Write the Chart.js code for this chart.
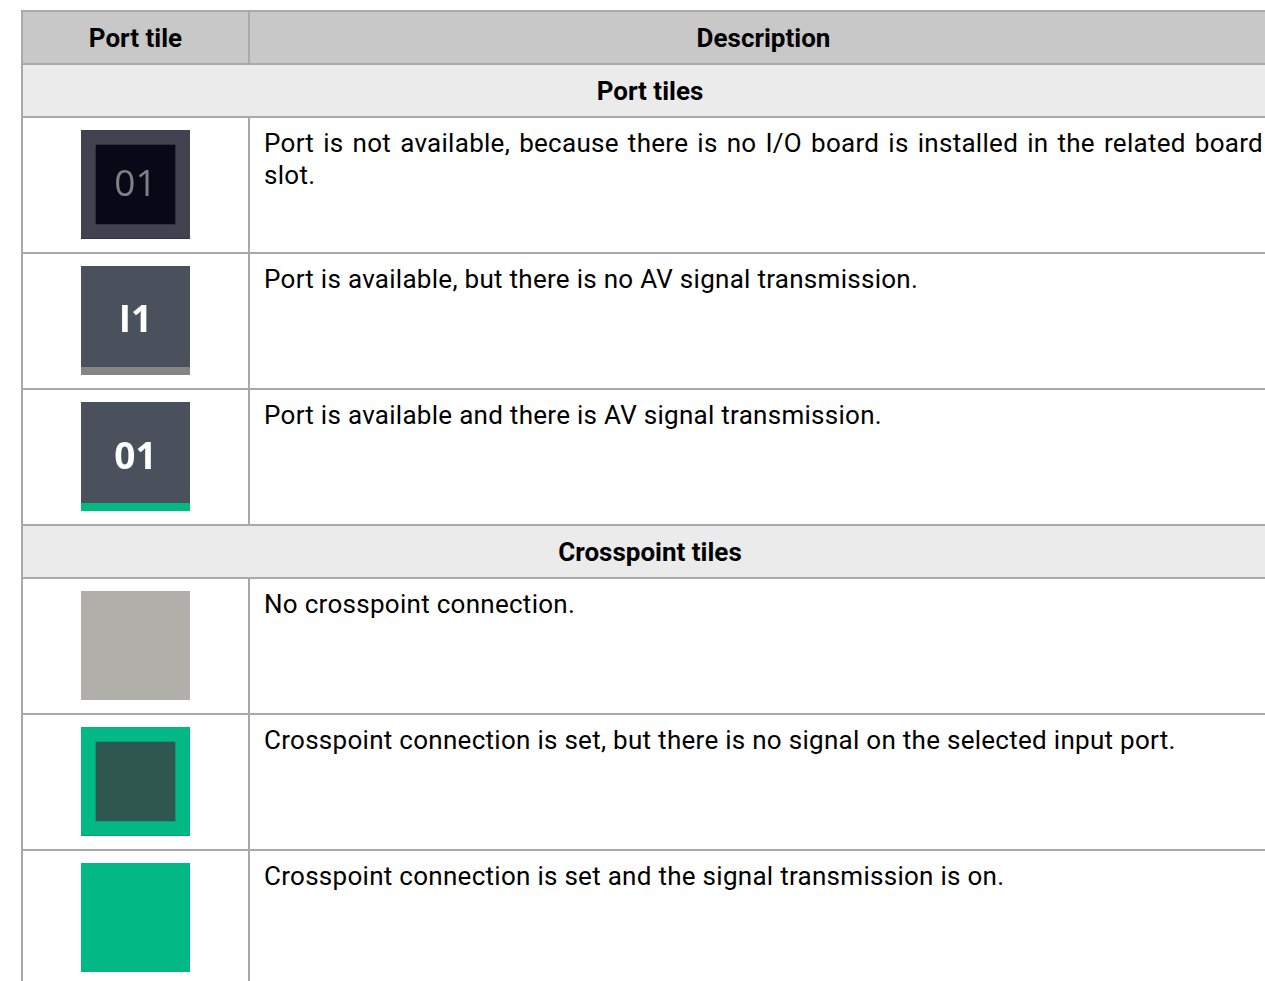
<!DOCTYPE html>
<html>
<head>
<meta charset="utf-8">
<script src="https://cdn.jsdelivr.net/npm/chart.js@4.4.1/dist/chart.umd.min.js"></script>
<style>
  body { margin: 0; background: #fff; overflow: hidden; width: 1265px; height: 981px; }
  #tbl {
    position: absolute; left: 21px; top: 10px;
    border-collapse: collapse; table-layout: fixed; width: 1256px;
    font-family: Roboto, sans-serif; color: #000;
  }
  #tbl td, #tbl th { border: 2px solid #a9a9a9; padding: 0; }
  #tbl th { background: #c8c8c8; font-weight: bold; font-size: 26px; height: 51px; }
  #tbl td.section { background: #ebebeb; font-weight: bold; font-size: 26px; text-align: center; height: 51px; }
  #tbl td.tile { text-align: center; vertical-align: top; height: 122px; padding-top: 12px; }
  #tbl td.desc { vertical-align: top; font-size: 26px; letter-spacing: 0.28px; line-height: 32px; text-align: justify; padding: 9px 14px 0 14px; }
  .tileBox { width: 109px; height: 109px; margin: 0 auto; position: relative; }
</style>
</head>
<body>
<table id="tbl">
  <colgroup><col style="width:227px"><col style="width:1029px"></colgroup>
  <thead><tr id="headRow"></tr></thead>
  <tbody id="bodyRows"></tbody>
</table>
<script>
// --- data ---
const columnTitles = ['Port tile', 'Description'];
const sections = ['Port tiles', 'Crosspoint tiles'];
const rowSection = [0, 0, 0, 1, 1, 1];
const tileLabels = ['01', 'I1', '01', '', '', ''];
const tileStates = ['unavailable', 'noSignal', 'signal', 'none', 'setNoSignal', 'setSignal'];
// body and status-strip shares of each tile (percent of tile height)
const bodyShare = [100, 93, 93, 100, 100, 100];
const stripShare = [0, 7, 7, 0, 0, 0];
const descriptions = [
  'Port is not available, because there is no I/O board is installed in the related board slot.',
  'Port is available, but there is no AV signal transmission.',
  'Port is available and there is AV signal transmission.',
  'No crosspoint connection.',
  'Crosspoint connection is set, but there is no signal on the selected input port.',
  'Crosspoint connection is set and the signal transmission is on.'
];

// --- styles per tile state ---
const stateStyle = {
  unavailable: { fill: '#070a16', strip: '#070a16', border: '#42414f', borderWidth: 15, text: '#808086', weight: '400', dy: 1 },
  noSignal:    { fill: '#4a515c', strip: '#858585', border: null, borderWidth: 0, text: '#ffffff', weight: 'bold', dy: 5 },
  signal:      { fill: '#4a515c', strip: '#02b884', border: null, borderWidth: 0, text: '#ffffff', weight: 'bold', dy: 6 },
  none:        { fill: '#b0afaa', strip: '#b0afaa', border: null, borderWidth: 0, text: '#ffffff', weight: '400', dy: 0 },
  setNoSignal: { fill: '#2e5750', strip: '#2e5750', border: '#02b884', borderWidth: 15, text: '#ffffff', weight: '400', dy: 0 },
  setSignal:   { fill: '#02b884', strip: '#02b884', border: null, borderWidth: 0, text: '#ffffff', weight: '400', dy: 0 }
};

// tile label drawn on the body bar
const tileLabelPlugin = {
  id: 'tileLabel',
  afterDatasetsDraw(chart, args, opts) {
    if (!opts.text) return;
    const bar = chart.getDatasetMeta(1).data[0];
    const ctx = chart.ctx;
    ctx.save();
    ctx.fillStyle = opts.color;
    ctx.font = opts.weight + ' 37px "Open Sans"';
    ctx.textAlign = 'center';
    ctx.textBaseline = 'middle';
    ctx.fillText(opts.text, bar.x, (bar.y + bar.base) / 2 + opts.dy);
    ctx.restore();
  }
};

const headRow = document.getElementById('headRow');
columnTitles.forEach(t => {
  const th = document.createElement('th');
  th.textContent = t;
  headRow.appendChild(th);
});

const tbody = document.getElementById('bodyRows');
let lastSection = -1;
descriptions.forEach((d, i) => {
  if (rowSection[i] !== lastSection) {
    lastSection = rowSection[i];
    const sr = document.createElement('tr');
    const sc = document.createElement('td');
    sc.colSpan = 2;
    sc.className = 'section';
    sc.textContent = sections[lastSection];
    sr.appendChild(sc);
    tbody.appendChild(sr);
  }
  const tr = document.createElement('tr');
  const tc = document.createElement('td');
  tc.className = 'tile';
  const box = document.createElement('div');
  box.className = 'tileBox';
  const cv = document.createElement('canvas');
  cv.id = 'tile' + i;
  box.appendChild(cv);
  tc.appendChild(box);
  const dc = document.createElement('td');
  dc.className = 'desc';
  dc.textContent = d;
  tr.appendChild(tc);
  tr.appendChild(dc);
  tbody.appendChild(tr);
});

tileStates.forEach((state, i) => {
  const st = stateStyle[state];
  new Chart(document.getElementById('tile' + i), {
    type: 'bar',
    data: {
      labels: [tileLabels[i] || 'tile'],
      datasets: [
        { label: 'strip', data: [stripShare[i]], backgroundColor: st.strip, borderWidth: 0 },
        {
          label: 'body', data: [bodyShare[i]], backgroundColor: st.fill,
          borderColor: st.border || st.fill, borderWidth: st.borderWidth, borderSkipped: false
        }
      ]
    },
    options: {
      responsive: true,
      maintainAspectRatio: false,
      animation: false,
      layout: { padding: 0 },
      datasets: { bar: { barPercentage: 1, categoryPercentage: 1 } },
      plugins: {
        legend: { display: false },
        tooltip: { enabled: false },
        tileLabel: { text: tileLabels[i], color: st.text, weight: st.weight, dy: st.dy }
      },
      scales: {
        x: { display: false, stacked: true },
        y: { display: false, stacked: true, min: 0, max: 100 }
      }
    },
    plugins: [tileLabelPlugin]
  });
});
</script>
</body>
</html>
